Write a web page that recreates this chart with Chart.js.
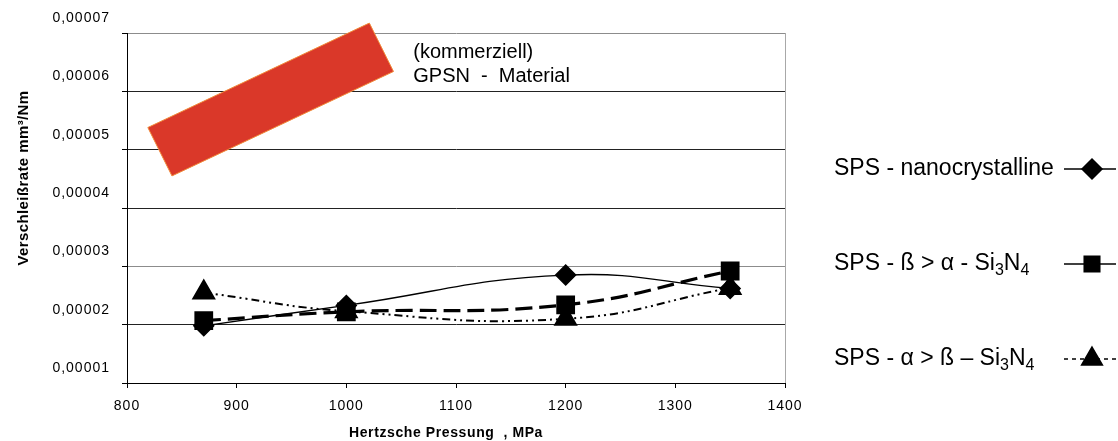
<!DOCTYPE html>
<html lang="de">
<head>
  <meta charset="UTF-8">
  <title>Verschleißrate</title>
  <script src="https://cdn.jsdelivr.net/npm/chart.js"></script>
  <style>
    body { margin: 0; background: #fff; }
    #wrap { width: 1118px; height: 441px; }
  </style>
</head>
<body>
  <div id="wrap"><canvas id="wearChart" width="1118" height="441"></canvas></div>

  <script>
    // Hertzsche Pressung, MPa
    const pressure = [870, 1000, 1200, 1350];
    // Verschleißrate mm³/Nm
    const nanocrystalline = [1.98e-5, 2.33e-5, 2.85e-5, 2.62e-5];
    const betaAlpha = [2.07e-5, 2.22e-5, 2.34e-5, 2.92e-5];
    const alphaBeta = [2.55e-5, 2.23e-5, 2.10e-5, 2.63e-5];

    // '_x' = subscript x
    const seriesNames = ['SPS - nanocrystalline', 'SPS - ß > α - Si_3N_4', 'SPS - α > ß – Si_3N_4'];
    const noteLines = ['(kommerziell)', 'GPSN  -  Material'];
    // red band for the commercial material, corners in data units (MPa, mm³/Nm)
    const gpsnBand = [[819, 5.38e-5], [1021, 7.17e-5], [1043, 6.34e-5], [841, 4.55e-5]];

    const FONT = "'Liberation Sans', Arial, sans-serif";

    const toPoints = vals => pressure.map((x, i) => ({ x: x, y: vals[i] }));

    function richText(ctx, str, x, y, size) {
      // draws text with single-char subscripts marked by '_'
      let cx = x;
      let buf = '';
      const flush = () => {
        if (!buf) return;
        ctx.font = size + 'px ' + FONT;
        ctx.fillText(buf, cx, y);
        cx += ctx.measureText(buf).width;
        buf = '';
      };
      for (let i = 0; i < str.length; i++) {
        if (str[i] === '_') {
          flush();
          const s = str[++i];
          ctx.font = Math.round(size * 0.68) + 'px ' + FONT;
          ctx.fillText(s, cx, y + size * 0.3);
          cx += ctx.measureText(s).width;
        } else {
          buf += str[i];
        }
      }
      flush();
    }

    const extras = {
      id: 'extras',
      beforeDraw(chart) {
        chart.ctx.letterSpacing = '1px';
      },
      beforeDatasetsDraw(chart) {
        const { ctx, scales: { x, y } } = chart;
        ctx.save();
        ctx.beginPath();
        gpsnBand.forEach((p, i) => {
          const px = x.getPixelForValue(p[0]);
          const py = y.getPixelForValue(p[1]);
          if (i === 0) ctx.moveTo(px, py); else ctx.lineTo(px, py);
        });
        ctx.closePath();
        ctx.fillStyle = '#da3829';
        ctx.fill();
        ctx.strokeStyle = '#f08a3a';
        ctx.lineWidth = 1;
        ctx.stroke();
        ctx.restore();
      },
      afterDraw(chart) {
        const { ctx, scales: { x, y } } = chart;
        ctx.save();
        ctx.letterSpacing = '0px';
        ctx.fillStyle = '#000';
        ctx.textBaseline = 'middle';
        ctx.textAlign = 'left';

        // note next to the red band
        ctx.font = '20px ' + FONT;
        ctx.fillText(noteLines[0], x.getPixelForValue(1061), y.getPixelForValue(6.67e-5));
        ctx.fillText(noteLines[1], x.getPixelForValue(1061), y.getPixelForValue(6.26e-5));

        // axis titles
        ctx.font = 'bold 14px ' + FONT;
        ctx.letterSpacing = '0.6px';
        ctx.textAlign = 'center';
        ctx.fillText('Hertzsche Pressung  , MPa', 446, 433);
        ctx.save();
        ctx.translate(24, 178);
        ctx.rotate(-Math.PI / 2);
        ctx.font = 'bold 15px ' + FONT;
        ctx.letterSpacing = '0.4px';
        ctx.fillText('Verschleißrate mm³/Nm', 0, 0);
        ctx.restore();

        // legend on the right
        ctx.letterSpacing = '0px';
        ctx.textAlign = 'left';
        const rowY = [169, 264, 359];
        chart.data.datasets.forEach((ds, i) => {
          const ry = rowY[i];
          ctx.fillStyle = '#000';
          richText(ctx, seriesNames[i], 834, ry, 23);
          ctx.beginPath();
          ctx.strokeStyle = '#000';
          ctx.lineWidth = 1.5;
          ctx.setLineDash(i === 2 ? [4, 4] : []);
          ctx.moveTo(1064, ry);
          ctx.lineTo(1116, ry);
          ctx.stroke();
          ctx.setLineDash([]);
          ctx.fillStyle = '#000';
          Chart.helpers.drawPoint(ctx, {
            pointStyle: ds.pointStyle, rotation: 0, radius: ds.pointRadius, borderWidth: 1
          }, 1092, ry);
        });
        ctx.restore();
      }
    };

    const near = (a, b) => Math.abs(a - b) < 1e-9;

    new Chart(document.getElementById('wearChart'), {
      type: 'line',
      data: {
        datasets: [
          {
            label: seriesNames[0], data: toPoints(nanocrystalline),
            borderColor: '#000', borderWidth: 1.4, tension: 0.45,
            pointStyle: 'rectRot', pointRadius: 10,
            pointBackgroundColor: '#000', pointBorderColor: '#000'
          },
          {
            label: seriesNames[1], data: toPoints(betaAlpha),
            borderColor: '#000', borderWidth: 3.2, borderDash: [17, 7], tension: 0.45,
            pointStyle: 'rect', pointRadius: 11,
            pointBackgroundColor: '#000', pointBorderColor: '#000'
          },
          {
            label: seriesNames[2], data: toPoints(alphaBeta),
            borderColor: '#000', borderWidth: 2, borderDash: [8, 4, 2, 4, 2, 4], tension: 0.45,
            pointStyle: 'triangle', pointRadius: 12,
            pointBackgroundColor: '#000', pointBorderColor: '#000'
          }
        ]
      },
      options: {
        responsive: false,
        animation: false,
        layout: { padding: { top: 33, right: 333, left: 0, bottom: 0 } },
        plugins: { legend: { display: false }, tooltip: { enabled: false } },
        scales: {
          x: {
            type: 'linear', min: 800, max: 1400,
            ticks: {
              stepSize: 100, color: '#000', padding: 10, font: { family: FONT, size: 14 },
              callback: v => String(v)
            },
            grid: {
              drawOnChartArea: true,
              color: c => (c.tick && c.tick.value === 1400) ? '#a8a8a8' : 'rgba(0,0,0,0)',
              tickColor: '#000', tickLength: 5, lineWidth: 1
            },
            border: { color: '#000', width: 1 },
            afterFit: s => { s.height = 58; }
          },
          y: {
            min: 1e-5, max: 7e-5,
            ticks: {
              stepSize: 1e-5, color: '#000', padding: 12, labelOffset: -15,
              font: { family: FONT, size: 14 },
              callback: v => v.toFixed(5).replace('.', ',')
            },
            grid: {
              color: c => (c.tick && (near(c.tick.value, 3e-5) || near(c.tick.value, 7e-5))) ? '#8c8c8c' : '#222',
              tickColor: '#000', tickLength: 5, lineWidth: 1
            },
            border: { color: '#000', width: 1 },
            afterFit: s => { s.width = 127; }
          }
        }
      },
      plugins: [extras]
    });
  </script>
</body>
</html>
